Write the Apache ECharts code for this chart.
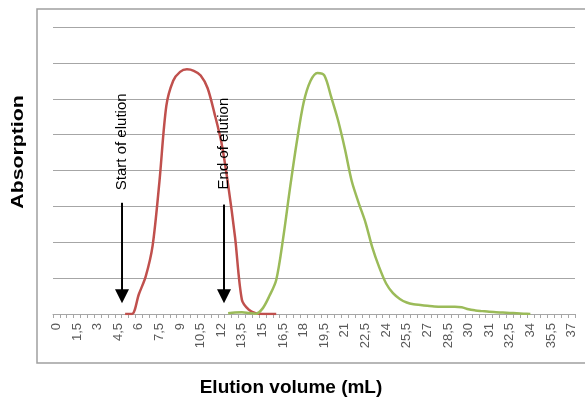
<!DOCTYPE html>
<html>
<head>
<meta charset="utf-8">
<script src="https://cdn.jsdelivr.net/npm/echarts@6/dist/echarts.min.js"></script>
<style>
html,body{margin:0;padding:0;background:#fff;}
#chart{width:585px;height:403px;}
</style>
</head>
<body>
<div id="chart"></div>
<script>
// Elution volume categories (mL)
const categories = [
  "0","0,5","1","1,5","2","2,5","3","3,5","4","4,5",
  "5","5,5","6","6,5","7","7,5","8","8,5","9","9,5",
  "10","10,5","11","11,5","12","12,5","13","13,5","14","14,5",
  "15","15,5","16","16,5","17","17,5","18","18,5","19","19,5",
  "20","20,5","21","21,5","22","22,5","23","23,5","24","24,5",
  "25","25,5","26","26,5","27","27,5","28","28,5","29","29,5",
  "30","30,5","30,75","31","31,5","32","32,5","33","33,5","34",
  "34,5","35","35,5","36","36,5","37"
];

// Red series (first peak)
const redValues = [
  null,null,null,null,null,null,null,null,null,null,
  0,0,0.55,1.05,1.9,3.7,5.8,6.5,6.75,6.82,
  6.78,6.65,6.3,5.6,4.8,3.6,2.15,0.4,0.12,0.02,
  0,0,0,null,null,null,null,null,null,null,
  null,null,null,null,null,null,null,null,null,null,
  null,null,null,null,null,null,null,null,null,null,
  null,null,null,null,null,null,null,null,null,null,
  null,null,null,null,null,null
];

// Green series (second peak)
const greenValues = [
  null,null,null,null,null,null,null,null,null,null,
  null,null,null,null,null,null,null,null,null,null,
  null,null,null,null,null,0.02,0.04,0.05,0.03,0.01,
  0.15,0.5,0.95,2.1,3.5,4.8,5.9,6.5,6.72,6.65,
  6.05,5.4,4.6,3.7,3.1,2.55,1.85,1.3,0.85,0.58,
  0.42,0.32,0.27,0.25,0.23,0.21,0.2,0.2,0.2,0.19,
  0.13,0.1,0.08,0.06,0.05,0.04,0.03,0.02,0.01,0,
  null,null,null,null,null,null
];

// Titles
const xTitle = "Elution volume (mL)";
const yTitle = "Absorption";

// Annotations: category index (fractional) and absorption values
const annotations = [
  {text: "Start of elution", idx: 9.55, textMid: 4.8, arrowTop: 3.1, arrowTip: 0.3},
  {text: "End of elution", idx: 24.4, textMid: 4.75, arrowTop: 3.05, arrowTip: 0.3}
];

const chart = echarts.init(document.getElementById('chart'), null, {renderer: 'canvas'});
const FONT = '"Liberation Sans", Arial, sans-serif';

chart.setOption({
  animation: false,
  backgroundColor: '#fff',
  grid: {left: 53, right: 10, top: 27, bottom: 89, containLabel: false},
  xAxis: {
    type: 'category',
    data: categories,
    boundaryGap: true,
    axisLine: {lineStyle: {color: '#a6a6a6', width: 1}},
    axisTick: {show: true, interval: 0, length: 4, lineStyle: {color: '#a6a6a6'}},
    axisLabel: {interval: 2, rotate: 90, fontFamily: FONT, fontSize: 13, color: '#595959', margin: 9}
  },
  yAxis: {
    type: 'value',
    min: 0, max: 8, interval: 1,
    axisLine: {show: false},
    axisTick: {show: false},
    axisLabel: {show: false},
    splitLine: {lineStyle: {color: '#a6a6a6', width: 1}}
  },
  series: [
    {type: 'line', data: redValues, smooth: 0.3, showSymbol: false, connectNulls: false,
     lineStyle: {color: '#C0504D', width: 2.5}, itemStyle: {color: '#C0504D'}},
    {type: 'line', data: greenValues, smooth: 0.3, showSymbol: false, connectNulls: false,
     lineStyle: {color: '#9BBB59', width: 2.5}, itemStyle: {color: '#9BBB59'}}
  ]
});

function px(idx, val) {
  const i0 = Math.floor(idx);
  const a = chart.convertToPixel({xAxisIndex: 0}, i0);
  const b = chart.convertToPixel({xAxisIndex: 0}, i0 + 1);
  const x = a + (b - a) * (idx - i0);
  const y = chart.convertToPixel({yAxisIndex: 0}, val);
  return [x, y];
}

const graphics = [
  {type: 'rect', shape: {x: 37, y: 9, width: 600, height: 354}, z: -10,
   style: {fill: 'none', stroke: '#a0a0a0', lineWidth: 1.5}, silent: true},
  {type: 'text', x: 291, y: 388, z: 100,
   style: {text: xTitle, fontFamily: FONT, fontWeight: 'bold', fontSize: 19, fill: '#000', align: 'center', verticalAlign: 'middle'}},
  {type: 'text', x: 18, y: 152, z: 100, rotation: Math.PI / 2, scaleX: 1.25,
   style: {text: yTitle, fontFamily: FONT, fontWeight: 'bold', fontSize: 17, fill: '#000', align: 'center', verticalAlign: 'middle'}}
];
annotations.forEach(function (a) {
  const t = px(a.idx, a.textMid);
  const top = px(a.idx, a.arrowTop);
  const tip = px(a.idx, a.arrowTip);
  const headH = 14, headW = 7;
  graphics.push({type: 'text', x: t[0], y: t[1], rotation: Math.PI / 2, z: 100,
    style: {text: a.text, fontFamily: FONT, fontSize: 15, fill: '#000', align: 'center', verticalAlign: 'middle'}});
  graphics.push({type: 'line', z: 100, shape: {x1: top[0], y1: top[1], x2: tip[0], y2: tip[1] - headH + 1},
    style: {stroke: '#000', lineWidth: 2}});
  graphics.push({type: 'polygon', z: 100, shape: {points: [[tip[0] - headW, tip[1] - headH], [tip[0] + headW, tip[1] - headH], [tip[0], tip[1]]]},
    style: {fill: '#000'}});
});
chart.setOption({graphic: graphics});
</script>
</body>
</html>
